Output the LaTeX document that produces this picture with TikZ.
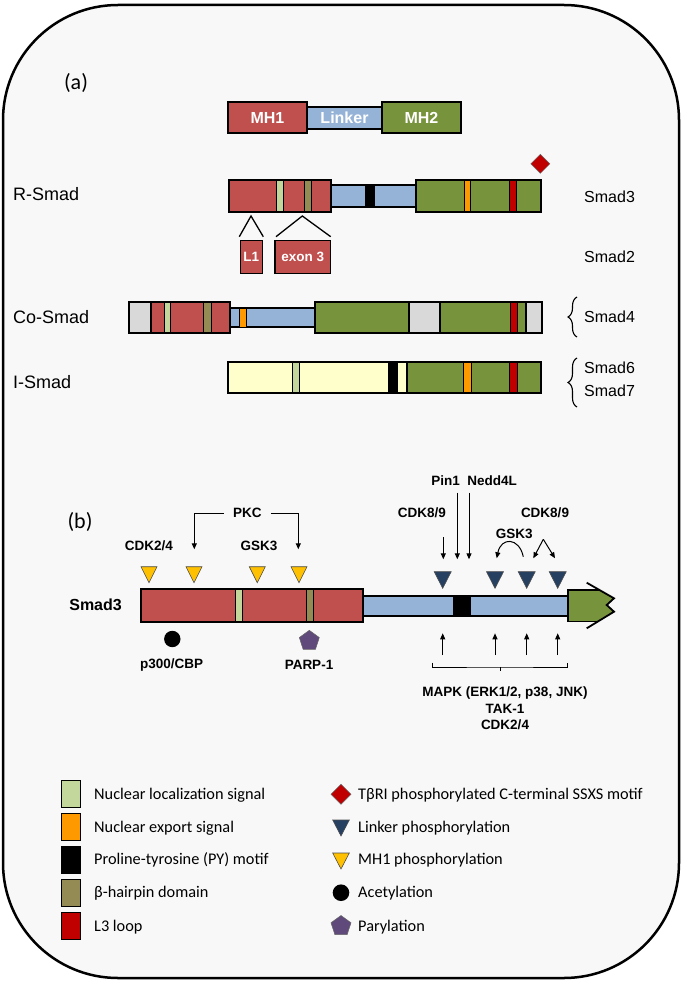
\documentclass[tikz,border=0pt]{standalone}
\usepackage{fontspec}
\setmainfont{Liberation Sans}
\newfontfamily\calib{Carlito}
\usetikzlibrary{arrows.meta,decorations.pathreplacing,shapes.geometric}
\definecolor{mhone}{HTML}{C0504D}
\definecolor{lnk}{HTML}{95B3D7}
\definecolor{mhtwo}{HTML}{77933C}
\definecolor{nls}{HTML}{C3D69B}
\definecolor{nes}{HTML}{FF9900}
\definecolor{bh}{HTML}{948A54}
\definecolor{lthree}{HTML}{C00000}
\definecolor{gry}{HTML}{D9D9D9}
\definecolor{ylw}{HTML}{FFFFCC}
\definecolor{tri}{HTML}{FFC000}
\definecolor{dblue}{HTML}{254061}
\definecolor{purp}{HTML}{604A7B}
\definecolor{bg}{HTML}{F8F8F8}
\begin{document}
\begin{tikzpicture}[x=1pt,y=-1pt,
  bx/.style={draw=black,line width=1.4pt},
  st/.style={draw=black,line width=1pt},
  arr/.style={-{Triangle[length=6pt,width=5pt]},line width=1pt},
  bl/.style={font=\bfseries\fontsize{13.5}{15}\selectfont,inner sep=0pt},
  rl/.style={font=\fontsize{18}{20}\selectfont,inner sep=0pt,anchor=west},
  sl/.style={font=\fontsize{16}{18}\selectfont,inner sep=0pt,anchor=west},
  lg/.style={font=\calib\fontsize{16.3}{18}\selectfont,inner sep=0pt,anchor=west},
  wl/.style={text=white,font=\bfseries\fontsize{16}{18}\selectfont,inner sep=0pt},
  wls/.style={text=white,font=\bfseries\fontsize{13.5}{15}\selectfont,inner sep=0pt},
  pl/.style={font=\calib\fontsize{22}{24}\selectfont,inner sep=0pt},
  yt/.style={fill=tri,draw=black!70,line width=0.6pt},
  btri/.style={fill=dblue,draw=black!70,line width=0.6pt},
  brc/.style={decorate,decoration={brace,amplitude=9pt},line width=1.1pt},
]
\useasboundingbox (0,0) rectangle (685,981);
\fill[white] (0,0) rectangle (685,981);
\draw[line width=2.5pt,fill=bg,rounded corners=115pt] (3,5) rectangle (679,978);

% ---------------- (a) ----------------
\node[pl] (la) at (76,83) {(a)};

% domain overview
\filldraw[bx,fill=lnk] (307,107) rectangle (382,129);
\filldraw[bx,fill=mhone] (228,102) rectangle (307,133);
\filldraw[bx,fill=mhtwo] (382,102) rectangle (461,133);
\node[wl] (tmh1) at (267.5,118) {MH1};
\node[wl] (tlnk) at (344.5,118) {Linker};
\node[wl] (tmh2) at (421.5,118) {MH2};

% R-Smad
\node[rl] (rsmad) at (13,194) {R-Smad};
\filldraw[bx,fill=lnk] (331,185) rectangle (416,207);
\filldraw[st,fill=black] (365,185) rectangle (374,207);
\filldraw[bx,fill=mhone] (229,180) rectangle (331,212);
\filldraw[st,fill=nls] (276,180) rectangle (283,212);
\filldraw[st,fill=bh] (304,180) rectangle (311,212);
\filldraw[bx,fill=mhtwo] (416,180) rectangle (541,212);
\filldraw[st,fill=nes] (464,180) rectangle (470,212);
\filldraw[st,fill=lthree] (509,180) rectangle (516,212);
\draw[bx] (229,180) rectangle (331,212);
\draw[bx] (416,180) rectangle (541,212);
\filldraw[fill=lthree,draw=black!60,line width=0.5pt] (540.3,154.3) -- (549.8,163.8) -- (540.3,173.3) -- (530.8,163.8) -- cycle;

% splice variants
\coordinate (v1a) at (239.3,236.7);
\coordinate (v1b) at (251,216);
\coordinate (v1c) at (263.3,236.7);
\coordinate (v2a) at (276,236.7);
\coordinate (v2b) at (302.3,216);
\coordinate (v2c) at (330.7,236.7);
\draw[line width=1.3pt] (v1a) -- (v1b) -- (v1c);
\draw[line width=1.3pt] (v2a) -- (v2b) -- (v2c);
\filldraw[bx,fill=mhone] (240.3,240.7) rectangle (262.3,273.3);
\filldraw[bx,fill=mhone] (275,240.7) rectangle (330.7,273.3);
\node[wls] (tl1) at (251.3,257) {L1};
\node[wls] (tex3) at (302.8,257) {exon 3};

\node[sl] (s3) at (584,197) {Smad3};
\node[sl] (s2) at (584,257) {Smad2};

% Co-Smad
\node[rl] (cosmad) at (13,317) {Co-Smad};
\filldraw[bx,fill=lnk] (230,308) rectangle (315,327);
\filldraw[st,fill=nes] (239,308) rectangle (246,327);
\filldraw[bx,fill=gry] (129,302) rectangle (151,333);
\filldraw[bx,fill=mhone] (151,302) rectangle (230,333);
\filldraw[st,fill=nls] (164,302) rectangle (170,333);
\filldraw[st,fill=bh] (203,302) rectangle (211,333);
\filldraw[bx,fill=mhtwo] (315,302) rectangle (409,333);
\filldraw[bx,fill=gry] (409,302) rectangle (440,333);
\filldraw[bx,fill=mhtwo] (440,302) rectangle (526,333);
\filldraw[st,fill=lthree] (510,302) rectangle (517,333);
\filldraw[bx,fill=gry] (526,302) rectangle (542,333);
\draw[bx] (129,302) rectangle (230,333);
\draw[bx] (315,302) rectangle (542,333);
\coordinate (brA1) at (577,337);
\coordinate (brA2) at (577,297);
\draw[brc] (brA1) -- (brA2);
\node[sl] (s4) at (584,317) {Smad4};

% I-Smad
\node[rl] (ismad) at (13,382) {I-Smad};
\filldraw[bx,fill=ylw] (228,362) rectangle (407,393);
\filldraw[st,fill=nls] (292,362) rectangle (299,393);
\filldraw[st,fill=black] (388,362) rectangle (397,393);
\filldraw[bx,fill=mhtwo] (407,362) rectangle (541,393);
\filldraw[st,fill=nes] (463,362) rectangle (471,393);
\filldraw[st,fill=lthree] (509,362) rectangle (517,393);
\draw[bx] (228,362) rectangle (541,393);
\coordinate (brB1) at (577,407);
\coordinate (brB2) at (577,358);
\draw[brc] (brB1) -- (brB2);
\node[sl] (s6) at (584,368) {Smad6};
\node[sl] (s7) at (584,391) {Smad7};

% ---------------- (b) ----------------
\node[pl] (lb) at (80,522) {(b)};
\node[font=\bfseries\fontsize{16}{18}\selectfont,inner sep=0pt,anchor=east] (sm3) at (122,605) {Smad3};

\filldraw[bx,fill=lnk] (363,596) rectangle (568,616);
\filldraw[st,fill=black] (453,596) rectangle (470,616);
\filldraw[bx,fill=mhone] (141,589) rectangle (363,622);
\filldraw[st,fill=nls] (235,589) rectangle (242,622);
\filldraw[st,fill=bh] (306,589) rectangle (313,622);
\draw[bx] (141,589) rectangle (363,622);
\fill[mhtwo] (568,590) -- (599.5,590) -- (614,598.3) -- (606.7,605) -- (614,611.7) -- (597.9,621.5) -- (568,621.5) -- cycle;
\draw[bx] (599.5,590) -- (568,590) -- (568,621.5) -- (597.9,621.5);
\draw[line width=1.8pt] (586.7,582.7) -- (614,598.3) -- (606.7,605) -- (614,611.7) -- (586.7,628.3);

% MH1 phosphorylation triangles
\foreach \cx in {149,194,257.3,299}{
  \filldraw[yt] (\cx-8,566.7) -- (\cx+8,566.7) -- (\cx,582.7) -- cycle;
}
% linker phosphorylation triangles
\foreach \cx in {442.7,495,526.7,557.7}{
  \filldraw[btri] (\cx-8.5,571.7) -- (\cx+8.5,571.7) -- (\cx,588.3) -- cycle;
}
\fill[black] (172.3,639) circle (8.2);
\node[regular polygon,regular polygon sides=5,minimum size=21pt,inner sep=0pt,fill=purp,draw=black!60,line width=0.5pt] (pent) at (309.3,640.8) {};
\node[bl] (p300) at (171.7,665) {p300/CBP};
\node[bl] (parp) at (309,665) {PARP-1};

% MH1 kinases
\node[bl] (cdkA) at (149,546) {CDK2/4};
\node[bl,inner xsep=9pt] (pkc) at (247.3,513) {PKC};
\node[bl] (gskA) at (259,546) {GSK3};
\coordinate (pkcL) at (194.3,549.3);
\coordinate (pkcR) at (298.3,549.3);
\draw[arr] (pkc.west) -| (pkcL);
\draw[arr] (pkc.east) -| (pkcR);

% linker kinases
\node[bl] (pin) at (445.5,480.7) {Pin1};
\node[bl] (ned) at (492,480.7) {Nedd4L};
\node[bl] (cdkB) at (421.8,512.3) {CDK8/9};
\node[bl] (cdkC) at (545,512.3) {CDK8/9};
\node[bl] (gskB) at (514.3,534) {GSK3};
\coordinate (pa) at (457.3,492.7);
\coordinate (pb) at (457.3,559.3);
\coordinate (na) at (469,492.7);
\coordinate (nb) at (469,559.3);
\coordinate (ca) at (443.3,537.3);
\coordinate (cb) at (443.3,559.3);
\draw[arr] (pa) -- (pb);
\draw[arr] (na) -- (nb);
\draw[arr] (ca) -- (cb);
\coordinate (ga) at (523.3,556.7);
\coordinate (gb) at (496.7,558.3);
\draw[arr] (ga) .. controls (519,537) and (501,537) .. (gb);
\coordinate (apx) at (543.3,539.3);
\coordinate (apl) at (533.3,558.3);
\coordinate (apr) at (555,558.3);
\draw[arr] (apx) -- (apl);
\draw[arr] (apx) -- (apr);

% bottom kinases
\foreach \cx [count=\i] in {442.7,495,526.7,557.7}{
  \coordinate (ub\i) at (\cx,655);
  \coordinate (ut\i) at (\cx,633.3);
  \draw[arr] (ub\i) -- (ut\i);
}
\coordinate (bkL) at (432.7,662.5);
\coordinate (bkR) at (567.3,662.5);
\coordinate (bkM) at (500,667);
\coordinate (bkT) at (500,671);
\draw[line width=0.9pt] (bkL) |- (bkM) -| (bkR);
\draw[line width=0.9pt] (bkM) -- (bkT);
\node[bl] (mapk) at (505,692.7) {MAPK (ERK1/2, p38, JNK)};
\node[bl] (tak) at (505,708.5) {TAK-1};
\node[bl] (cdkD) at (505,724.5) {CDK2/4};

% ---------------- legend ----------------
\foreach \y/\c in {794/nls,827/nes,860/black,893/bh,926/lthree}{
  \filldraw[bx,fill=\c] (61.7,\y-13.3) rectangle (80.7,\y+13.3);
}
\node[lg] (lg1) at (94,795) {Nuclear localization signal};
\node[lg] (lg2) at (94,828) {Nuclear export signal};
\node[lg] (lg3) at (94,860) {Proline-tyrosine (PY) motif};
\node[lg] (lg4) at (94,893) {β-hairpin domain};
\node[lg] (lg5) at (94,927) {L3 loop};

\filldraw[fill=lthree,draw=black!60,line width=0.5pt] (341,784.3) -- (351,794.3) -- (341,804.3) -- (331,794.3) -- cycle;
\filldraw[btri] (332.7,820) -- (349.3,820) -- (341,836) -- cycle;
\filldraw[yt] (332.7,853) -- (349.3,853) -- (341,869) -- cycle;
\fill[black] (341,892.7) circle (8.3);
\node[regular polygon,regular polygon sides=5,minimum size=21pt,inner sep=0pt,fill=purp,draw=black!60,line width=0.5pt] (lpent) at (341,926) {};
\node[lg] (lg6) at (358,795) {TβRI phosphorylated C-terminal SSXS motif};
\node[lg] (lg7) at (358,828) {Linker phosphorylation};
\node[lg] (lg8) at (358,860) {MH1 phosphorylation};
\node[lg] (lg9) at (358,893) {Acetylation};
\node[lg] (lg10) at (358,927) {Parylation};
\end{tikzpicture}
\end{document}
